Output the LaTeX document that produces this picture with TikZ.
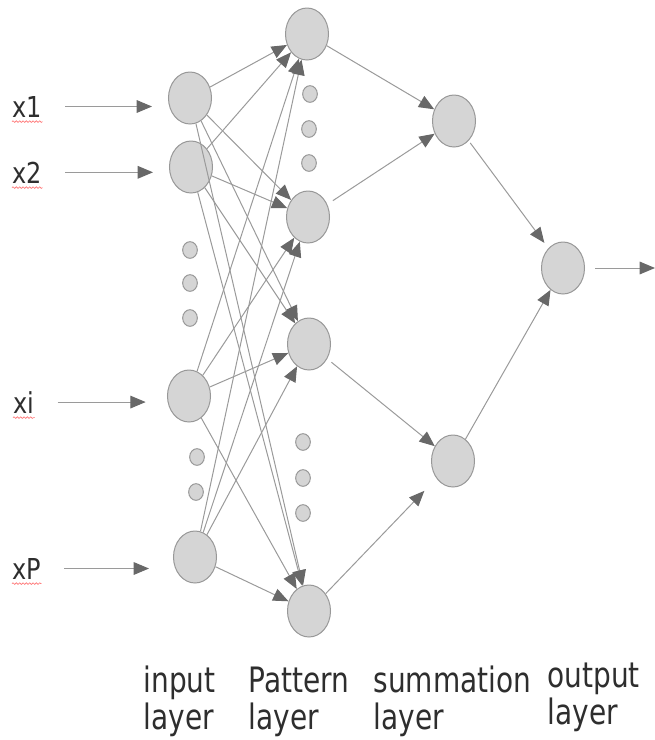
\documentclass[tikz,border=0pt]{standalone}
\usepackage{fontspec}
\setsansfont{DejaVu Sans}
\usetikzlibrary{arrows.meta,shapes.geometric,decorations.pathmorphing}

\definecolor{nodefill}{HTML}{D5D5D5}
\definecolor{nodeline}{HTML}{989898}
\definecolor{linkgray}{HTML}{9A9A9A}
\definecolor{tipgray}{HTML}{686868}
\definecolor{txtgray}{HTML}{2E2E2E}

\tikzset{every picture/.style={line width=0.75pt},
  neuron/.style={ellipse, draw=nodeline, fill=nodefill, minimum width=32.25pt, minimum height=39pt, inner sep=0pt},
  gapdot/.style={ellipse, draw=nodeline, fill=nodefill, minimum width=11pt, minimum height=12.5pt, inner sep=0pt},
  link/.style={draw=linkgray, -{Triangle[length=11.5pt,width=9.5pt,color=tipgray]}},
  inlabel/.style={font=\sffamily\fontsize{18}{20}\selectfont, text=txtgray, inner sep=0pt, anchor=base west, yscale=1.2},
  layerlabel/.style={font=\sffamily\fontsize{21}{22.2}\selectfont, text=txtgray, inner sep=0pt, anchor=base west, align=left, yscale=1.25},
  squig/.style={draw=red!55, line width=0.5pt, decorate, decoration={snake, amplitude=0.6pt, segment length=2.5pt}}
}

\begin{document}
\begin{tikzpicture}[x=0.75pt,y=0.75pt,yscale=-1,xscale=1]
\useasboundingbox (0,0) rectangle (655,740);

%Shape: input layer
\node[neuron] (in1) at (190,98) {};
\node[neuron] (in2) at (191,167) {};
\node[neuron] (ini) at (189,396) {};
\node[neuron] (inP) at (195,557) {};
%Shape: pattern layer
\node[neuron] (pat1) at (307,34) {};
\node[neuron] (pat2) at (308,217) {};
\node[neuron] (pat3) at (309,344) {};
\node[neuron] (pat4) at (309,611) {};
%Shape: summation layer
\node[neuron] (sum1) at (454,121) {};
\node[neuron] (sum2) at (453,461) {};
%Shape: output layer
\node[neuron] (out) at (563,268) {};
\coordinate (yout) at (655,268);

%Shape: gap dots
\node[gapdot] (idot1) at (190,250) {};
\node[gapdot] (idot2) at (190,283) {};
\node[gapdot] (idot3) at (190,318) {};
\node[gapdot] (idot4) at (197,457) {};
\node[gapdot] (idot5) at (196,492) {};
\node[gapdot] (pdot1) at (310,94) {};
\node[gapdot] (pdot2) at (309,129) {};
\node[gapdot] (pdot3) at (309,163) {};
\node[gapdot] (pdot4) at (303,442) {};
\node[gapdot] (pdot5) at (303,478) {};
\node[gapdot] (pdot6) at (303,513) {};

% Text Node
\node[inlabel] (lx1) at (12,117) {x1};
\node[inlabel] (lx2) at (12,183) {x2};
\node[inlabel] (lxi) at (13,413) {xi};
\node[inlabel] (lxP) at (12,579) {xP};
% spell-check marks
\draw[squig] ([yshift=3pt]lx1.south west) -- ([yshift=3pt]lx1.south east);
\draw[squig] ([yshift=3pt]lx2.south west) -- ([yshift=3pt]lx2.south east);
\draw[squig] ([yshift=3pt]lxi.south west) -- ([yshift=3pt]lxi.south east);
\draw[squig] ([yshift=3pt]lxP.south west) -- ([yshift=3pt]lxP.south east);

% Text Node (base = last line)
\node[layerlabel] (linput) at (143,729) {input\\layer};
\node[layerlabel] (lpattern) at (248,729) {Pattern\\layer};
\node[layerlabel] (lsum) at (373,729) {summation\\layer};
\node[layerlabel] (lout) at (547,724) {output\\layer};

%Arrows: inputs
\draw[link] ([xshift=17pt]lx1.east) -- ([xshift=-12pt]lx1.east -| in1.west);
\draw[link] ([xshift=17pt]lx2.east) -- ([xshift=-12pt]lx2.east -| in2.west);
\draw[link] ([xshift=17pt]lxi.east) -- ([xshift=-16pt]lxi.east -| ini.west);
\draw[link] ([xshift=17pt]lxP.east) -- ([xshift=-18pt]lxP.east -| inP.west);

%Arrows: input to pattern
\draw[link] (in1) -- (pat1);
\draw[link] (in1) -- (pat2);
\draw[link] (in1) -- (pat3);
\draw[link] (in1) -- (pat4);
\draw[link] (in2) -- (pat1);
\draw[link] (in2) -- (pat2);
\draw[link] (in2) -- (pat3);
\draw[link] (in2) -- (pat4);
\draw[link] (ini) -- (pat1);
\draw[link] (ini) -- (pat2);
\draw[link] (ini) -- (pat3);
\draw[link] (ini) -- (pat4);
\draw[link] (inP) -- (pat1);
\draw[link] (inP) -- (pat2);
\draw[link] (inP) -- (pat3);
\draw[link] (inP) -- (pat4);

%Arrows: pattern to summation
\draw[link] (pat1) -- (sum1);
\draw[link, shorten <=5pt] (pat2) -- (sum1);
\draw[link, shorten <=4pt] (pat3) -- (sum2);
\draw[link, shorten >=13pt] (pat4) -- (sum2);

%Arrows: summation to output
\draw[link, shorten <=2pt, shorten >=5pt] (sum1) -- (out);
\draw[link] (sum2) -- (out);
\draw[link, shorten <=7.5pt] (out) -- (yout);

\end{tikzpicture}
\end{document}
